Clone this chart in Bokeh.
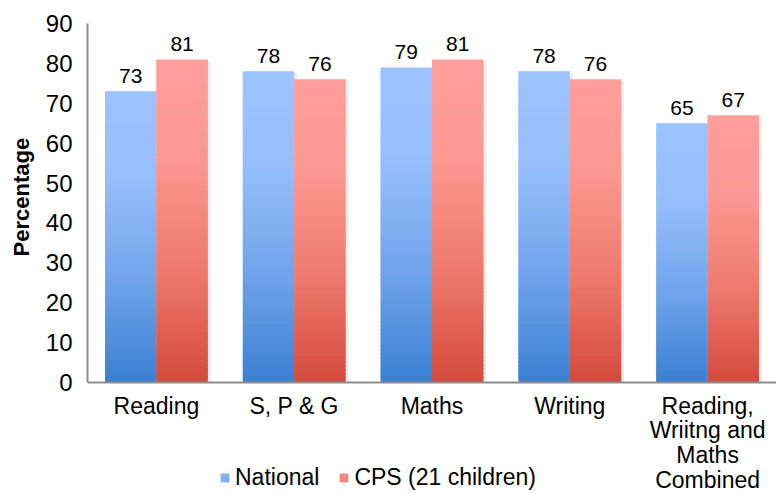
from bokeh.plotting import figure
from bokeh.models import ColumnDataSource, Range1d, FixedTicker, Legend, LegendItem, Title
from bokeh.embed import file_html
from bokeh.resources import INLINE

# ---- data ----
categories = ["Reading", "S, P & G", "Maths", "Writing", "Reading,\nWriitng and\nMaths\nCombined"]
national = [73, 78, 79, 78, 65]
cps = [81, 76, 81, 76, 67]
series_names = ["National", "CPS (21 children)"]
y_ticks = [0, 10, 20, 30, 40, 50, 60, 70, 80, 90]
y_title = "Percentage"

FONT = "Liberation Sans"
BAR_W = 0.373
N_SLICES = 80

# gradient stops (fraction from bottom, colour)
blue_stops = [(0.0, (58, 128, 209)), (0.35, (113, 164, 235)), (0.7, (150, 190, 251)), (1.0, (157, 195, 255))]
red_stops = [(0.0, (212, 74, 60)), (0.35, (238, 122, 110)), (0.7, (252, 152, 146)), (1.0, (255, 158, 156))]


def grad(stops, f):
    for (f0, c0), (f1, c1) in zip(stops[:-1], stops[1:]):
        if f0 <= f <= f1:
            t = (f - f0) / (f1 - f0)
            c = [round(a + (b - a) * t) for a, b in zip(c0, c1)]
            return "#%02x%02x%02x" % tuple(c)
    return "#%02x%02x%02x" % tuple(stops[-1][1])


# frame: left 87, top 23 (=90), 0 at 382, bottom of canvas 493
px_per_unit = (382 - 23) / 90.0
y_start = 90 - (493 - 23) / px_per_unit

p = figure(width=776, height=493, output_backend="svg", toolbar_location=None,
           x_range=Range1d(0.5, 5.5), y_range=Range1d(y_start, 90),
           min_border_left=87, min_border_right=0, min_border_top=23, min_border_bottom=0)
p.outline_line_color = None
p.xgrid.grid_line_color = None
p.ygrid.grid_line_color = None
p.background_fill_color = "white"
p.border_fill_color = "white"

shadow_dx = 3 / 138.0


def add_series(values, offset, stops):
    # soft shadow
    sh = ColumnDataSource(dict(x=[i + 1 + offset + shadow_dx for i in range(len(values))],
                               top=[v - 0.4 for v in values]))
    p.vbar(x="x", top="top", bottom=0, width=BAR_W, source=sh,
           fill_color="#ededed", line_color=None)
    xs, bottoms, tops, colors = [], [], [], []
    for i, v in enumerate(values):
        for k in range(N_SLICES):
            f0 = k / N_SLICES
            f1 = (k + 1) / N_SLICES
            xs.append(i + 1 + offset)
            bottoms.append(v * f0)
            tops.append(min(v, v * (f1 + 0.6 / N_SLICES)))
            colors.append(grad(stops, (f0 + f1) / 2))
    src = ColumnDataSource(dict(x=xs, bottom=bottoms, top=tops, color=colors))
    return p.vbar(x="x", bottom="bottom", top="top", width=BAR_W, source=src,
                  fill_color="color", line_color=None)


def add_labels(values, offset):
    lab = ColumnDataSource(dict(x=[i + 1 + offset for i in range(len(values))], y=values,
                                t=[str(v) for v in values]))
    p.text(x="x", y="y", text="t", source=lab, text_align="center", text_baseline="alphabetic",
           y_offset=-15, text_font_size="21px", text_color="black", text_font={"value": FONT})


rb = add_series(national, -BAR_W / 2, blue_stops)
rr = add_series(cps, BAR_W / 2, red_stops)
add_labels(national, -BAR_W / 2)
add_labels(cps, BAR_W / 2)

legend = Legend(items=[LegendItem(label=series_names[0], renderers=[rb], index=N_SLICES // 2),
                       LegendItem(label=series_names[1], renderers=[rr], index=N_SLICES // 2)],
                orientation="horizontal", location=(132, 2))
legend.padding = 0
legend.margin = 0
legend.spacing = 19
legend.glyph_width = 11
legend.glyph_height = 11
legend.label_standoff = 5
legend.border_line_color = None
legend.background_fill_alpha = 0
legend.label_text_font = FONT
legend.label_text_font_size = "23px"
legend.label_text_color = "black"
p.add_layout(legend, "center")

# axes
p.xaxis.fixed_location = 0
p.xaxis.ticker = FixedTicker(ticks=[i + 1 for i in range(len(categories))])
p.xaxis.major_label_overrides = {i + 1: c for i, c in enumerate(categories)}
p.yaxis.ticker = FixedTicker(ticks=y_ticks)
p.yaxis.bounds = (0, 90)
for ax in (p.xaxis[0], p.yaxis[0]):
    ax.axis_line_color = "#8c8c8c"
    ax.axis_line_width = 2
    ax.major_tick_line_color = None
    ax.minor_tick_line_color = None
    ax.major_tick_out = 0
    ax.major_tick_in = 0
    ax.major_label_text_font = FONT
    ax.major_label_text_color = "black"
p.xaxis.major_label_text_font_size = "23px"
p.yaxis.major_label_text_font_size = "24px"
p.xaxis.major_label_standoff = 10
p.xaxis.major_label_text_line_height = 0.96
p.yaxis.major_label_standoff = 15

# y axis title, placed alongside the 0..90 span of the axis (offset measured from frame bottom)
yt = Title(text=y_title, align="left", vertical_align="middle", offset=237, standoff=15,
           text_font=FONT, text_font_style="bold", text_font_size="22px", text_color="black")
p.add_layout(yt, "left")

open("out.html", "w").write(file_html(p, INLINE))
